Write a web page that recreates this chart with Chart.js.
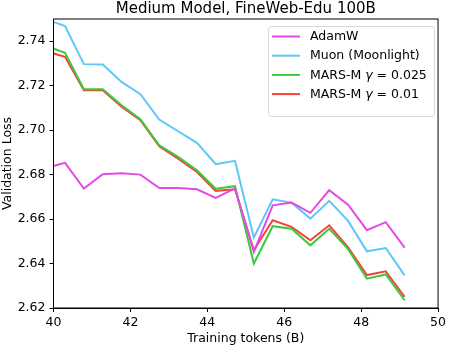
<!DOCTYPE html>
<html>
<head>
<meta charset="utf-8">
<script src="https://cdn.jsdelivr.net/npm/chart.js@4.4.1/dist/chart.umd.min.js"></script>
<style>
  html, body { margin: 0; padding: 0; background: #fff; }
  #wrap { width: 449px; height: 346px; }
</style>
</head>
<body>
<div id="wrap"><canvas id="myChart" width="449" height="346"></canvas></div>
<script>
// values
const tokens = [39.81, 40.30, 40.79, 41.28, 41.77, 42.26, 42.75, 43.24, 43.73, 44.22,
                44.72, 45.21, 45.70, 46.19, 46.68, 47.17, 47.66, 48.15, 48.64, 49.13];
const adamw = [2.6830, 2.6853, 2.6737, 2.6802, 2.6806, 2.6800, 2.6740, 2.6740, 2.6734, 2.6695,
               2.6738, 2.6452, 2.6662, 2.6674, 2.6628, 2.6730, 2.6665, 2.6550, 2.6586, 2.6472];
const muon = [2.7499, 2.7468, 2.7297, 2.7295, 2.7217, 2.7162, 2.7048, 2.6995, 2.6943, 2.6847,
              2.6862, 2.6517, 2.6689, 2.6674, 2.6602, 2.6682, 2.6592, 2.6455, 2.6470, 2.6347];
const marsG025 = [2.7379, 2.7348, 2.7184, 2.7184, 2.7112, 2.7049, 2.6932, 2.6880, 2.6820, 2.6737,
                  2.6748, 2.6400, 2.6568, 2.6557, 2.6482, 2.6556, 2.6465, 2.6332, 2.6351, 2.6235];
const marsG01 = [2.7354, 2.7330, 2.7180, 2.7180, 2.7105, 2.7045, 2.6928, 2.6872, 2.6812, 2.6727,
                 2.6734, 2.6460, 2.6595, 2.6565, 2.6505, 2.6572, 2.6473, 2.6348, 2.6365, 2.6250];
const xTicks = [40, 42, 44, 46, 48, 50];
const yTicks = [2.62, 2.64, 2.66, 2.68, 2.70, 2.72, 2.74];

const FONT = 'DejaVu Sans';

const series = [
  { label: 'AdamW', name: ['AdamW'], values: adamw, color: '#e44be6' },
  { label: 'Muon (Moonlight)', name: ['Muon (Moonlight)'], values: muon, color: '#5bc8f7' },
  { label: 'MARS-M γ = 0.025', name: ['MARS-M ', 'γ', ' = 0.025'], values: marsG025, color: '#3ec83e' },
  { label: 'MARS-M γ = 0.01', name: ['MARS-M ', 'γ', ' = 0.01'], values: marsG01, color: '#f4433a' },
];

const data = {
  datasets: series.map(s => ({
    label: s.label,
    data: tokens.map((t, i) => ({ x: t, y: s.values[i] })),
    borderColor: s.color,
    backgroundColor: s.color,
    borderWidth: 2,
    pointRadius: 0,
    tension: 0,
    fill: false,
  })),
};

// frame round the plot area, title, and a matplotlib-like legend
const extras = {
  id: 'extras',
  afterDatasetsDraw(chart) {
    const { ctx, chartArea: a } = chart;
    ctx.save();
    ctx.strokeStyle = '#000';
    ctx.lineWidth = 1;
    ctx.strokeRect(a.left, a.top, a.right - a.left, a.bottom - a.top);

    ctx.fillStyle = '#000';
    ctx.font = '15px ' + FONT;
    ctx.textAlign = 'center';
    ctx.textBaseline = 'middle';
    ctx.fillText('Medium Model, FineWeb-Edu 100B', (a.left + a.right) / 2, 9);

    // legend box
    const bx = 268.5, by = 26.5, bw = 166, bh = 90;
    ctx.beginPath();
    ctx.roundRect(bx, by, bw, bh, 3);
    ctx.fillStyle = 'rgba(255,255,255,0.8)';
    ctx.fill();
    ctx.strokeStyle = '#d6d6d6';
    ctx.stroke();

    ctx.textAlign = 'left';
    series.forEach((s, i) => {
      const y = 36.5 + i * 19.2;
      ctx.strokeStyle = s.color;
      ctx.lineWidth = 2;
      ctx.beginPath();
      ctx.moveTo(272, y);
      ctx.lineTo(300, y);
      ctx.stroke();
      let x = 310;
      s.name.forEach(part => {
        ctx.font = (part === 'γ' ? 'italic ' : '') + '12.5px ' + FONT;
        ctx.fillStyle = '#000';
        ctx.fillText(part, x, y + 0.5);
        x += ctx.measureText(part).width;
      });
    });
    ctx.restore();
  },
};

const config = {
  type: 'line',
  data: data,
  options: {
    responsive: false,
    animation: false,
    layout: { padding: { top: 19, right: 9, left: 0, bottom: 0 } },
    plugins: {
      legend: { display: false },
      title: { display: false },
      tooltip: { enabled: false },
    },
    scales: {
      x: {
        type: 'linear',
        min: 40,
        max: 50,
        afterBuildTicks: scale => { scale.ticks = xTicks.map(v => ({ value: v })); },
        afterFit: scale => { scale.height = 38; },
        grid: { drawOnChartArea: false, tickLength: 4, color: '#000', tickWidth: 1 },
        border: { color: '#000', width: 1 },
        ticks: { color: '#000', font: { family: FONT, size: 12.5 }, padding: 3, maxRotation: 0 },
        title: { display: true, text: 'Training tokens (B)', color: '#000',
                 font: { family: FONT, size: 12.5 }, padding: { top: 0, bottom: 0 } },
      },
      y: {
        type: 'linear',
        min: 2.62,
        max: 2.75,
        afterBuildTicks: scale => { scale.ticks = yTicks.map(v => ({ value: v })); },
        afterFit: scale => { scale.width = 53.5; },
        grid: { drawOnChartArea: false, tickLength: 4, color: '#000', tickWidth: 1 },
        border: { color: '#000', width: 1 },
        ticks: { color: '#000', font: { family: FONT, size: 12.5 }, padding: 4,
                 callback: v => v.toFixed(2) },
        title: { display: true, text: 'Validation Loss', color: '#000',
                 font: { family: FONT, size: 12.5 }, padding: { top: 0, bottom: 0 } },
      },
    },
  },
  plugins: [extras],
};

const ctx = document.getElementById('myChart');
const myChart = new Chart(ctx, config);
</script>
</body>
</html>
